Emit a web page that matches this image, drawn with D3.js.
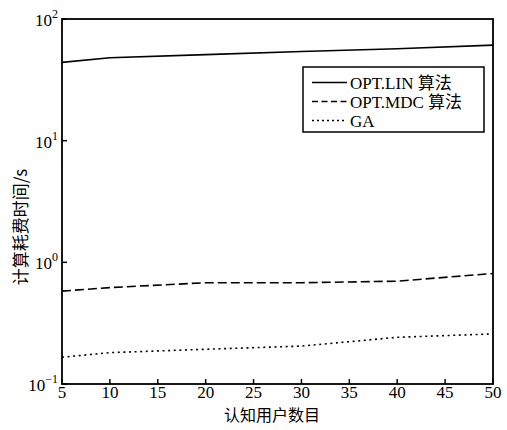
<!DOCTYPE html>
<html>
<head>
<meta charset="utf-8">
<script src="https://cdn.jsdelivr.net/npm/d3@7"></script>
<style>
  body { margin: 0; background: #fff; }
</style>
</head>
<body>
<div id="chart"></div>
<script>
const users = [5, 10, 20, 30, 40, 50]
const optLin = [44, 48, 51, 54, 57, 61]
const optMdc = [0.58, 0.62, 0.68, 0.68, 0.70, 0.81]
const ga = [0.166, 0.181, 0.193, 0.205, 0.242, 0.258]
const xTicks = [5, 10, 15, 20, 25, 30, 35, 40, 45, 50]
const yTicks = [0.1, 1, 10, 100]
const yExp = ['-1', '0', '1', '2']
const seriesNames = ['OPT.LIN 算法', 'OPT.MDC 算法', 'GA']

const width = 507
const height = 430
const plotLeft = 62, plotRight = 493, plotTop = 19, plotBottom = 384

const serif = 'Liberation Serif, DejaVu Serif, Noto Sans CJK SC, serif'
const cjk = 'Noto Sans CJK SC, sans-serif'

const svg = d3.select('#chart').append('svg')
  .attr('width', width).attr('height', height)

const x = d3.scaleLinear().domain([5, 50]).range([plotLeft, plotRight])
const y = d3.scaleLog().domain([0.1, 100]).range([plotBottom, plotTop])

// dash patterns for the three series
const dashes = [null, '9,4', '2,3.6']
const legendDashes = [null, '6,3.5', '2,3']

const seriesData = [optLin, optMdc, ga]

const line = d3.line()
  .x((d, i) => x(users[i]))
  .y(d => y(d))

seriesData.forEach((s, k) => {
  svg.append('path')
    .datum(s)
    .attr('d', line)
    .attr('fill', 'none')
    .attr('stroke', '#000')
    .attr('stroke-width', 1.6)
    .attr('stroke-dasharray', dashes[k])
})

// box
svg.append('rect')
  .attr('x', plotLeft).attr('y', plotTop)
  .attr('width', plotRight - plotLeft).attr('height', plotBottom - plotTop)
  .attr('fill', 'none').attr('stroke', '#000').attr('stroke-width', 1.8)

// x ticks (inward)
svg.selectAll('.xtick').data(xTicks).enter()
  .append('line')
  .attr('x1', d => x(d)).attr('x2', d => x(d))
  .attr('y1', plotBottom).attr('y2', plotBottom - 5)
  .attr('stroke', '#000').attr('stroke-width', 1.5)

svg.selectAll('.xlabel').data(xTicks).enter()
  .append('text')
  .attr('x', d => x(d)).attr('y', plotBottom + 14)
  .attr('text-anchor', 'middle')
  .attr('font-family', serif)
  .attr('font-size', 17)
  .text(d => d)

// y ticks (inward)
svg.selectAll('.ytick').data(yTicks).enter()
  .append('line')
  .attr('x1', plotLeft).attr('x2', plotLeft + 5)
  .attr('y1', d => y(d)).attr('y2', d => y(d))
  .attr('stroke', '#000').attr('stroke-width', 1.5)

const ylab = svg.selectAll('.ylabel').data(yTicks).enter()
  .append('text')
  .attr('x', plotLeft - 4).attr('y', d => y(d) + 7)
  .attr('text-anchor', 'end')
  .attr('font-family', serif)
  .attr('font-size', 17)

ylab.append('tspan').text('10')
ylab.append('tspan')
  .attr('dy', -8)
  .attr('font-size', 12)
  .text((d, i) => yExp[i].replace('-', '\u2212'))

// axis titles
svg.append('text')
  .attr('x', 272).attr('y', 421)
  .attr('text-anchor', 'middle')
  .attr('font-size', 16)
  .attr('font-family', cjk)
  .text('认知用户数目')

svg.append('text')
  .attr('transform', 'translate(27,227) rotate(-90)')
  .attr('text-anchor', 'middle')
  .attr('font-size', 17)
  .attr('fill', '#000')
  .attr('font-family', cjk)
  .text('计算耗费时间/s')

// legend
const legend = svg.append('g').attr('transform', 'translate(303,67)')
legend.append('rect')
  .attr('width', 181).attr('height', 65)
  .attr('fill', '#fff').attr('stroke', '#000').attr('stroke-width', 1.5)

const rows = legend.selectAll('.row').data(seriesNames).enter()
  .append('g')
  .attr('transform', (d, i) => `translate(0,${15.5 + i * 19})`)

rows.append('line')
  .attr('x1', 9).attr('x2', 44)
  .attr('stroke', '#000').attr('stroke-width', 1.6)
  .attr('stroke-dasharray', (d, i) => legendDashes[i])

rows.append('text')
  .attr('x', 47).attr('y', 6)
  .attr('font-size', 17)
  .attr('font-family', serif)
  .text(d => d)
</script>
</body>
</html>
